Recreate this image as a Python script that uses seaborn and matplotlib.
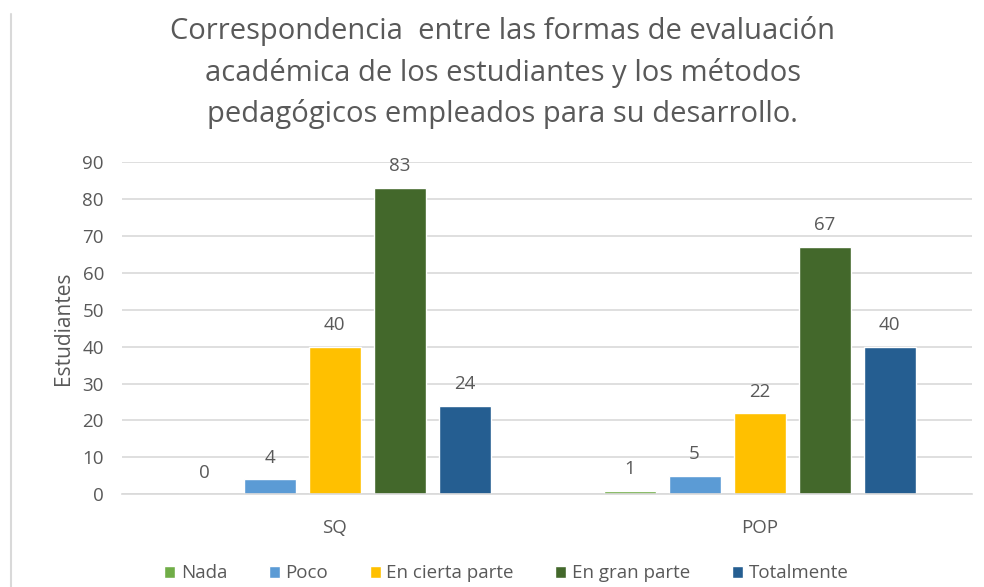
import pandas as pd
import matplotlib
matplotlib.use("Agg")
import matplotlib.pyplot as plt
import seaborn as sns
from matplotlib.lines import Line2D

# data
grupos = ["SQ", "POP"]
respuestas = ["Nada", "Poco", "En cierta parte", "En gran parte", "Totalmente"]
valores_sq = [0, 4, 40, 83, 24]
valores_pop = [1, 5, 22, 67, 40]
colores = ["#70AD47", "#5B9BD5", "#FFC000", "#43682B", "#255E91"]

titulo = ("Correspondencia  entre las formas de evaluación\n"
          "académica de los estudiantes y los métodos\n"
          "pedagógicos empleados para su desarrollo.")

df = pd.DataFrame({
    "Grupo": [g for g in grupos for _ in respuestas],
    "Respuesta": respuestas * len(grupos),
    "Estudiantes": valores_sq + valores_pop,
})

sns.set_style("white")
plt.rcParams["font.family"] = ["Open Sans", "DejaVu Sans"]
gris = "#595959"

fig = plt.figure(figsize=(9.84, 5.87), dpi=100)
ax = fig.add_axes([0.124, 0.158, 0.864, 0.566])

sns.barplot(data=df, x="Grupo", y="Estudiantes", hue="Respuesta",
            order=grupos, hue_order=respuestas, palette=colores,
            saturation=1, width=0.765, gap=0.2, ax=ax, legend=True)

# data labels
for cont in ax.containers:
    ax.bar_label(cont, padding=9, color=gris, fontsize=13.5)

ax.set_ylim(0, 90)
ax.set_yticks(range(0, 91, 10))
ax.yaxis.grid(True, color="#d9d9d9", linewidth=1.2)
ax.set_axisbelow(True)
for s in ["top", "right", "left"]:
    ax.spines[s].set_visible(False)
ax.spines["bottom"].set_color("#d9d9d9")
ax.spines["bottom"].set_linewidth(1.2)
ax.tick_params(axis="both", length=0, labelsize=13.5, labelcolor=gris)
ax.tick_params(axis="y", pad=13)
ax.tick_params(axis="x", pad=18)
ax.set_xlabel("")
ax.set_ylabel("Estudiantes", fontsize=15, color=gris, labelpad=6)

fig.text(0.511, 0.972, titulo, ha="center", va="top", fontsize=21,
         color=gris, linespacing=1.5)

ax.legend(loc="center", bbox_to_anchor=(0.452, -0.238), ncol=5,
          frameon=False, fontsize=13.5, labelcolor=gris, handlelength=0.6,
          handleheight=0.6, handletextpad=0.3, columnspacing=2.2)

# chart border on the left
fig.add_artist(Line2D([0.011, 0.011], [0.0, 0.976], color="#d9d9d9", linewidth=1.5))

plt.savefig("out.png", dpi=100)
